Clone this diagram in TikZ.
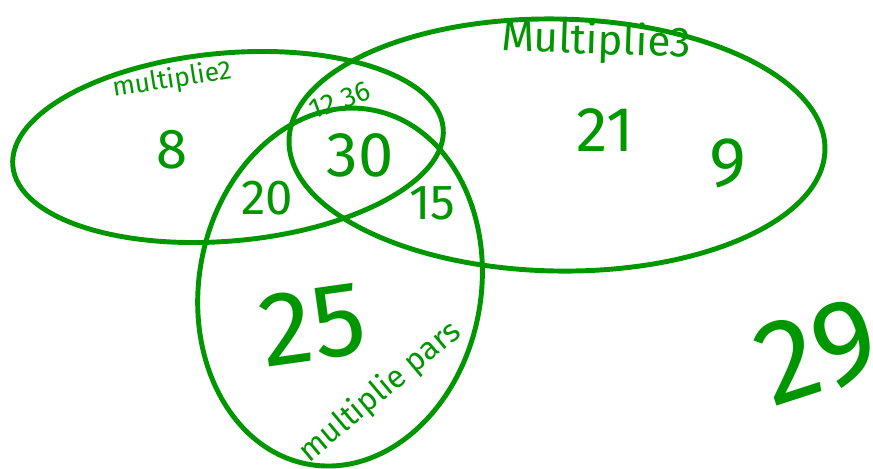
\documentclass[tikz,border=0pt]{standalone}
\usepackage{fontspec}
\setmainfont{Fira Sans}
\definecolor{pen}{RGB}{0,150,0}
\begin{document}
\begin{tikzpicture}[x=0.02cm, y=-0.02cm,
	set/.style={draw=pen, line width=2.8pt},
	num/.style={text=pen, inner sep=0pt},
	tag/.style={text=pen, inner sep=0pt}]
	\useasboundingbox (0,0) rectangle (873,468);
	% the three sets
	\coordinate (ctwo) at (228,147);
	\coordinate (cthree) at (557,145);
	\coordinate (cpars) at (340,287);
	\draw[set, rotate around={5:(ctwo)}] (ctwo) ellipse [x radius=216, y radius=94];
	\draw[set, rotate around={-1:(cthree)}] (cthree) ellipse [x radius=268, y radius=126];
	\draw[set, rotate around={-10:(cpars)}] (cpars) ellipse [x radius=141, y radius=180];
	% set names
	\node[tag, rotate=9, font=\fontsize{15}{15}\selectfont] (ltwo) at (172,80) {multiplie2};
	\node[tag, rotate=-2, font=\fontsize{24}{24}\selectfont] (lthree) at (596,42) {Multiplie3};
	\node[tag, rotate=40, font=\fontsize{18}{18}\selectfont] (lpars) at (380,392) {multiplie pars};
	% numbers
	\node[num, font=\fontsize{32}{32}\selectfont] (neight) at (172,150) {8};
	\node[num, rotate=20, font=\fontsize{16}{16}\selectfont] (ntwelve) at (340,100) {12 36};
	\node[num, font=\fontsize{36}{36}\selectfont] (nthirty) at (360,155) {30};
	\node[num, font=\fontsize{28}{28}\selectfont] (ntwenty) at (267,198) {20};
	\node[num, font=\fontsize{28}{28}\selectfont] (nfifteen) at (432,203) {15};
	\node[num, font=\fontsize{36}{36}\selectfont] (ntwentyone) at (605,130) {21};
	\node[num, font=\fontsize{40}{40}\selectfont] (nnine) at (728,163) {9};
	\node[num, rotate=8, font=\fontsize{60}{60}\selectfont] (ntwentyfive) at (313,325) {25};
	\node[num, rotate=18, font=\fontsize{68}{68}\selectfont] (ntwentynine) at (818,352) {29};
\end{tikzpicture}
\end{document}
